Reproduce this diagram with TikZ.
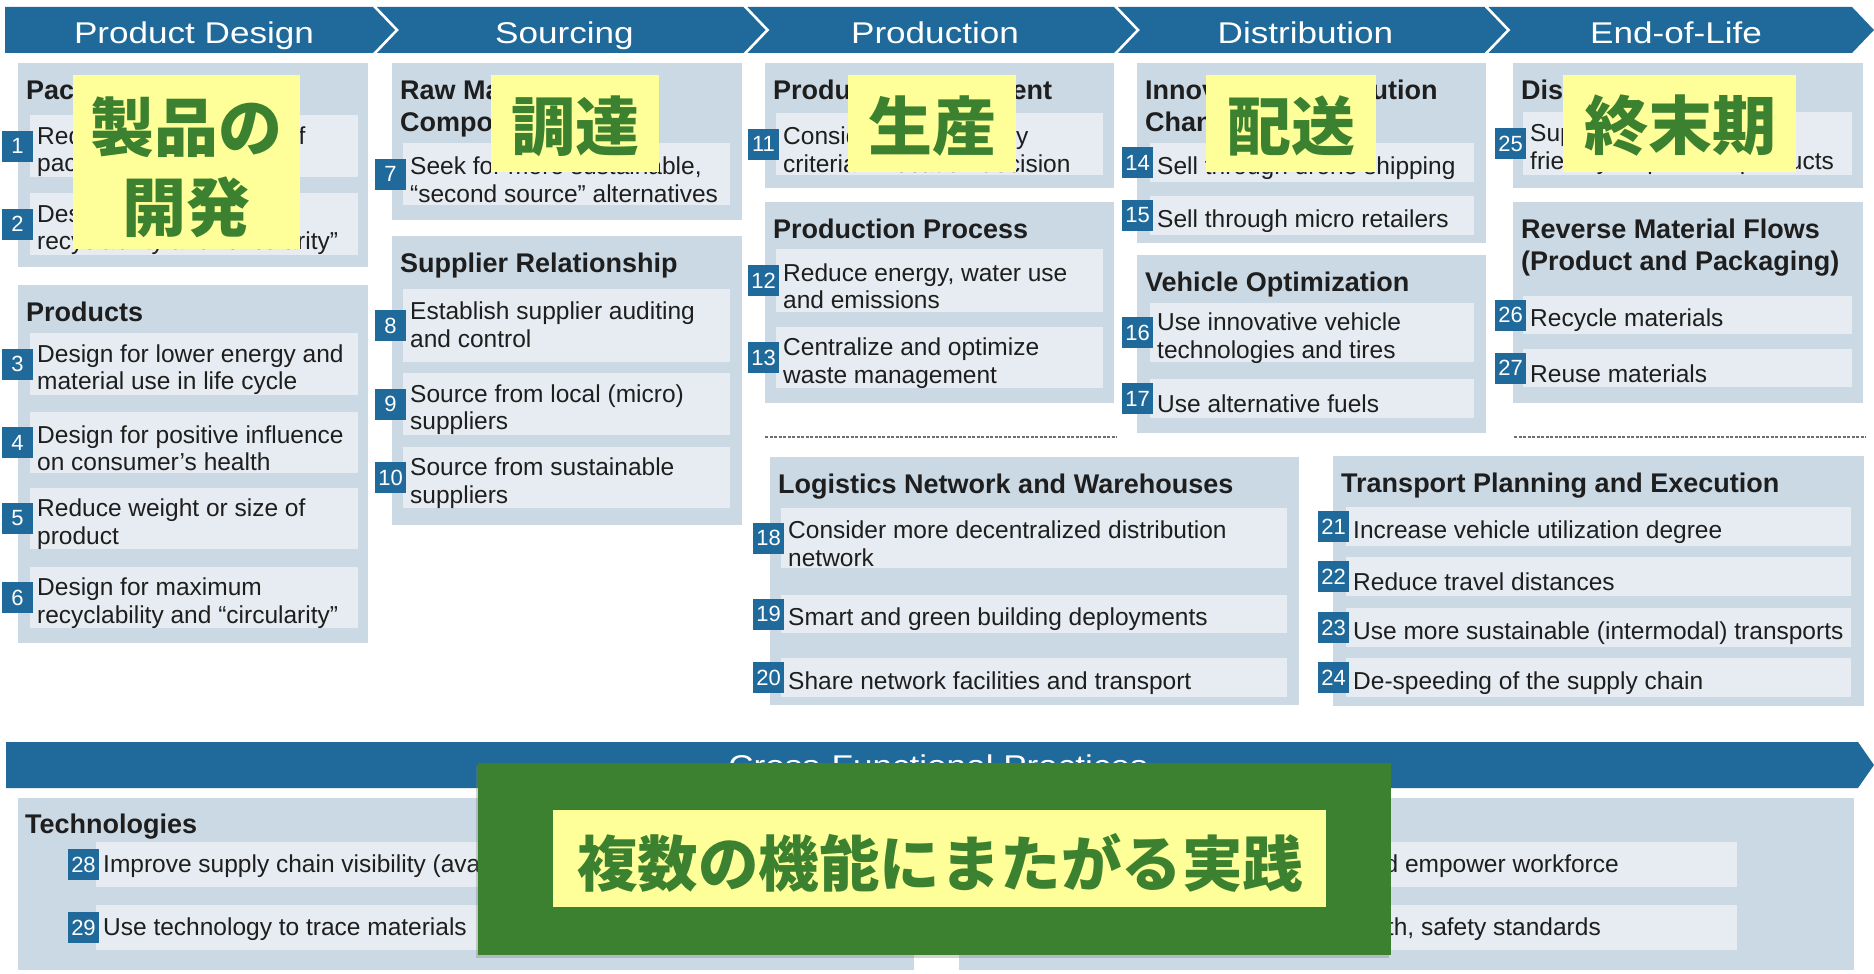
\documentclass[tikz,border=0pt]{standalone}
\usepackage{fontspec}
\setmainfont{Liberation Sans}
\newfontfamily\jp{Noto Sans CJK JP}
\usetikzlibrary{shadows}
\definecolor{blu}{HTML}{1F6A9A}
\definecolor{boxc}{HTML}{CBD9E4}
\definecolor{rowc}{HTML}{E6ECF1}
\definecolor{ylw}{HTML}{FFFF99}
\definecolor{grn}{HTML}{3C8130}
\definecolor{txtc}{HTML}{1E1E1E}
\definecolor{dashc}{HTML}{6E6E6E}
\tikzset{
  obox/.style={fill=boxc, draw=none, inner sep=0pt, anchor=north west},
  rowbox/.style={fill=rowc, draw=none, inner sep=0pt, anchor=north west},
  badge/.style={fill=blu, text=white, inner sep=0pt, minimum width=31pt, minimum height=31pt,
                font=\fontsize{22}{22}\selectfont},
  itxt/.style={anchor=west, align=left, inner sep=0pt, text=txtc,
               font=\fontsize{24.5}{27.5}\selectfont},
  ttl/.style={anchor=north west, align=left, inner sep=0pt, text=txtc,
              font=\bfseries\fontsize{27}{32}\selectfont},
  hdr/.style={anchor=base, inner sep=0pt, text=white, font=\fontsize{30}{30}\selectfont},
  ybox/.style={fill=ylw, draw=none, inner sep=0pt, anchor=north west},
  jpl/.style={inner sep=0pt, text=grn, font=\jp\bfseries\fontsize{64}{64}\selectfont},
  dline/.style={draw=dashc, line width=1.6pt, dash pattern=on 3pt off 1.5pt}
}
\def\yoff{5.5}
\newcommand\obx[5]{\node[obox, minimum width={#3-#2}, minimum height={#5-#4}] (#1) at (#2,#4) {};}
\newcommand\itm[6]{%
  \node[rowbox, minimum width={#3-#2}, minimum height={#5-#4}] (r#1) at (#2,#4) {};
  \node[badge] (b#1) at ({#2-12.5},{(#4+#5)/2}) {#1};
  \node[itxt] (t#1) at ({#2+7},{(#4+#5)/2+\yoff}) {#6};}
\newcommand\ttlat[4]{\node[ttl] (#1) at ({#2+8},{#3+16.3}) {#4};}
\begin{document}
\begin{tikzpicture}[x=1pt,y=-1pt]
\useasboundingbox (0,0) rectangle (1874,974);
% ---------- header chevrons
\fill[blu] (5,7) -- (373,7) -- (395,30) -- (373,53) -- (5,53) -- cycle;
\fill[blu] (377,7) -- (743.5,7) -- (765.5,30) -- (743.5,53) -- (377,53) -- (399,30) -- cycle;
\fill[blu] (747.5,7) -- (1114,7) -- (1136,30) -- (1114,53) -- (747.5,53) -- (769.5,30) -- cycle;
\fill[blu] (1118,7) -- (1484.5,7) -- (1506.5,30) -- (1484.5,53) -- (1118,53) -- (1140,30) -- cycle;
\fill[blu] (1488.5,7) -- (1852,7) -- (1874,30) -- (1852,53) -- (1488.5,53) -- (1510.5,30) -- cycle;
\node[hdr] (h1) at (194,44) {\scalebox{1.17}[1]{Product Design}};
\node[hdr] (h2) at (564.5,44) {\scalebox{1.17}[1]{Sourcing}};
\node[hdr] (h3) at (935,44) {\scalebox{1.17}[1]{Production}};
\node[hdr] (h4) at (1305.5,44) {\scalebox{1.17}[1]{Distribution}};
\node[hdr] (h5) at (1676,44) {\scalebox{1.17}[1]{End-of-Life}};
% ---------- Product Design
\obx{pack}{18}{368}{63}{267}
\ttlat{packT}{18}{63}{Packaging}
\itm{1}{30}{358}{115}{177}{Reduce weight or size of\\packaging}
\itm{2}{30}{358}{193}{255}{Design for maximum\\recyclability and “circularity”}
\obx{prod}{18}{368}{285}{643}
\ttlat{prodT}{18}{285}{Products}
\itm{3}{30}{358}{333}{395}{Design for lower energy and\\material use in life cycle}
\itm{4}{30}{358}{412}{473}{Design for positive influence\\on consumer’s health}
\itm{5}{30}{358}{488}{549}{Reduce weight or size of\\product}
\itm{6}{30}{358}{567}{628}{Design for maximum\\recyclability and “circularity”}
% ---------- Sourcing
\obx{raw}{392}{742}{63}{220}
\ttlat{rawT}{392}{63}{Raw Materials and\\Components}
\itm{7}{403}{730}{143}{205}{Seek for more sustainable,\\“second source” alternatives}
\obx{sup}{392}{742}{236}{525}
\ttlat{supT}{392}{236}{Supplier Relationship}
\def\yoff{-1}
\itm{8}{403}{730}{289}{362}{Establish supplier auditing\\and control}
\def\yoff{5.5}
\itm{9}{403}{730}{373}{435}{Source from local (micro)\\suppliers}
\itm{10}{403}{730}{447}{508}{Source from sustainable\\suppliers}
% ---------- Production
\obx{pdev}{765}{1114}{63}{188}
\ttlat{pdevT}{765}{63}{Product Development}
\itm{11}{776}{1103}{113}{175}{Consider sustainability\\criteria in location decision}
\obx{pproc}{765}{1114}{202}{403}
\ttlat{pprocT}{765}{202}{Production Process}
\itm{12}{776}{1103}{249}{312}{Reduce energy, water use\\and emissions}
\itm{13}{776}{1103}{327}{388}{Centralize and optimize\\waste management}
% ---------- Distribution
\obx{chan}{1137}{1486}{63}{243}
\ttlat{chanT}{1137}{63}{Innovative Distribution\\Channels}
\itm{14}{1150}{1474}{143}{182}{Sell through drone shipping}
\itm{15}{1150}{1474}{196}{235}{Sell through micro retailers}
\obx{veh}{1137}{1486}{255}{433}
\ttlat{vehT}{1137}{255}{Vehicle Optimization}
\itm{16}{1150}{1474}{303}{362}{Use innovative vehicle\\technologies and tires}
\itm{17}{1150}{1474}{379}{418}{Use alternative fuels}
% ---------- End-of-Life
\obx{disp}{1513}{1863}{63}{188}
\ttlat{dispT}{1513}{63}{Disposal}
\itm{25}{1523}{1852}{112}{175}{Support environmentally\\friendly disposal of products}
\obx{rev}{1513}{1863}{202}{403}
\ttlat{revT}{1513}{202}{Reverse Material Flows\\(Product and Packaging)}
\itm{26}{1523}{1852}{296}{334}{Recycle materials}
\itm{27}{1523}{1852}{349}{387}{Reuse materials}
% ---------- dashed separators
\coordinate (da1) at (765,437); \coordinate (da2) at (1117,437);
\coordinate (db1) at (1514,437); \coordinate (db2) at (1866,437);
\draw[dline] (da1) -- (da2);
\draw[dline] (db1) -- (db2);
% ---------- Logistics
\obx{log}{770}{1299}{457}{705}
\ttlat{logT}{770}{457}{Logistics Network and Warehouses}
\itm{18}{781}{1287}{508}{568}{Consider more decentralized distribution\\network}
\itm{19}{781}{1287}{595}{633}{Smart and green building deployments}
\itm{20}{781}{1287}{658}{697}{Share network facilities and transport}
\obx{trn}{1333}{1864}{456}{706}
\ttlat{trnT}{1333}{456}{Transport Planning and Execution}
\itm{21}{1346}{1851}{507}{546}{Increase vehicle utilization degree}
\itm{22}{1346}{1851}{557}{596}{Reduce travel distances}
\itm{23}{1346}{1851}{608}{647}{Use more sustainable (intermodal) transports}
\itm{24}{1346}{1851}{658}{697}{De-speeding of the supply chain}
% ---------- Cross-functional
\fill[blu] (6,742) -- (1858,742) -- (1874,765) -- (1858,788) -- (6,788) -- cycle;
\node[hdr] (cf) at (938,776) {\scalebox{1.17}[1]{Cross-Functional Practices}};
\obx{tech}{18}{914}{798}{970}
\node[ttl] (techT) at (25,{833-19.7}) {Technologies};
\def\yoff{2}
\itm{28}{96}{800}{842}{887}{Improve supply chain visibility (availability of information)}
\itm{29}{96}{800}{905}{950}{Use technology to trace materials}
\obx{ppl}{959}{1854}{798}{970}
\node[rowbox, minimum width=700pt, minimum height=45pt] (r30) at (1037,842) {};
\node[rowbox, minimum width=700pt, minimum height=45pt] (r31) at (1037,905) {};
\node[itxt, anchor=east] (t30) at (1619,866.5) {Train and empower workforce};
\node[itxt, anchor=east] (t31) at (1601,929.5) {Enforce labor, health, safety standards};
% ---------- overlays
\node[ybox, minimum width=227pt, minimum height=174pt] (y1) at (73,75) {};
\node[jpl] (j1a) at (186.5,127) {製品の};
\node[jpl] (j1b) at (186.5,207) {開発};
\node[ybox, minimum width=168pt, minimum height=97pt] (y2) at (491,75) {};
\node[jpl] (j2) at (575,126) {調達};
\node[ybox, minimum width=168pt, minimum height=97pt] (y3) at (848,75) {};
\node[jpl] (j3) at (932,126) {生産};
\node[ybox, minimum width=170pt, minimum height=97pt] (y4) at (1206,75) {};
\node[jpl] (j4) at (1291,126) {配送};
\node[ybox, minimum width=233pt, minimum height=97pt] (y5) at (1563,75) {};
\node[jpl] (j5) at (1680,126) {終末期};
\node[fill=grn, inner sep=0pt, anchor=north west, minimum width=913pt, minimum height=192pt,
      drop shadow={shadow xshift=-2pt, shadow yshift=-3pt, opacity=.35}] (g) at (478,763) {};
\node[ybox, minimum width=773pt, minimum height=97pt] (y6) at (553,810) {};
\node[jpl, font=\jp\bfseries\fontsize{60.5}{60.5}\selectfont] (j6) at (940,863) {複数の機能にまたがる実践};
\end{tikzpicture}
\end{document}
